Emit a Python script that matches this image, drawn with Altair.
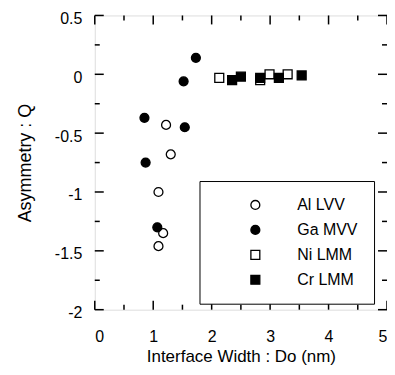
import altair as alt
import pandas as pd

series = ["Al LVV", "Ga MVV", "Ni LMM", "Cr LMM"]

al_x = [1.22, 1.30, 1.09, 1.17, 1.09]
al_y = [-0.43, -0.68, -1.00, -1.35, -1.46]

ga_x = [0.85, 1.52, 1.73, 1.54, 0.87, 1.07]
ga_y = [-0.37, -0.06, 0.14, -0.45, -0.75, -1.30]

ni_x = [2.13, 2.83, 2.99, 3.30]
ni_y = [-0.03, -0.05, 0.00, 0.00]

cr_x = [2.35, 2.50, 2.83, 3.15, 3.54]
cr_y = [-0.05, -0.02, -0.03, -0.03, -0.01]

x_major = [0, 1, 2, 3, 4, 5]
x_minor = [0.5, 1.5, 2.5, 3.5, 4.5]
y_major = [-2, -1.5, -1, -0.5, 0, 0.5]
y_minor = [-1.75, -1.25, -0.75, -0.25, 0.25]

rows = []
for name, xs_, ys_ in [("Al LVV", al_x, al_y), ("Ga MVV", ga_x, ga_y),
                       ("Ni LMM", ni_x, ni_y), ("Cr LMM", cr_x, cr_y)]:
    for a, b in zip(xs_, ys_):
        rows.append({"x": a, "y": b, "series": name})
df = pd.DataFrame(rows)

W, H = 293, 295
FONT = "Liberation Sans"

xs = alt.Scale(domain=[0, 5], nice=False, zero=False)
ys = alt.Scale(domain=[-2, 0.5], nice=False, zero=False)

x_axis = alt.Axis(
    values=x_major, title="Interface Width : Do (nm)", ticks=False, domain=False,
    grid=False, labelPadding=19, titlePadding=4, labelFontSize=16, titleFontSize=17,
    labelFont=FONT, titleFont=FONT, titleFontWeight="normal", labelColor="black",
    titleColor="black", labelExpr="toString(datum.value)")
y_axis = alt.Axis(
    values=y_major, title="Asymmetry : Q", ticks=False, domain=False, grid=False,
    labelPadding=13, titlePadding=20, labelFontSize=16, titleFontSize=18,
    labelFont=FONT, titleFont=FONT, titleFontWeight="normal", labelColor="black",
    titleColor="black", labelOffset=3, labelExpr="toString(datum.value)")

leg = dict(
    title=None, orient="none", legendX=105, legendY=166,
    strokeColor="black", padding=16,
    symbolOffset=32, labelOffset=34, rowPadding=9,
    labelFont=FONT, labelFontSize=16, labelColor="black",
    symbolStrokeColor="black", symbolStrokeWidth=1.3, symbolSize=80,
    fillColor="white",
)

points = alt.Chart(df).mark_point(
    filled=True, size=80, strokeWidth=1.3, opacity=1
).encode(
    x=alt.X("x:Q", scale=xs, axis=x_axis),
    y=alt.Y("y:Q", scale=ys, axis=y_axis),
    shape=alt.Shape("series:N", scale=alt.Scale(domain=series, range=["circle", "circle", "square", "square"]),
                    legend=alt.Legend(**leg)),
    fill=alt.Fill("series:N", scale=alt.Scale(domain=series, range=["white", "black", "white", "black"]),
                  legend=alt.Legend(**leg)),
    stroke=alt.Stroke("series:N", scale=alt.Scale(domain=series, range=["black", "black", "black", "black"]),
                      legend=alt.Legend(**leg)),
)

def tick_layer(vals, field, size, pos):
    d = pd.DataFrame({field: vals})
    m = alt.Chart(d).mark_tick(size=size, thickness=1.5, color="black", opacity=1)
    if field == "x":
        return m.encode(x=alt.X("x:Q", scale=xs, axis=x_axis), y=alt.value(pos))
    return m.encode(y=alt.Y("y:Q", scale=ys, axis=y_axis), x=alt.value(pos))

ticks = [
    tick_layer(x_major, "x", 9, H - 4.5), tick_layer(x_minor, "x", 5, H - 2.5),
    tick_layer(x_major, "x", 9, 4.5), tick_layer(x_minor, "x", 5, 2.5),
    tick_layer(y_major, "y", 9, 4.5), tick_layer(y_minor, "y", 5, 2.5),
    tick_layer(y_major, "y", 9, W - 4.5), tick_layer(y_minor, "y", 5, W - 2.5),
]

chart = alt.layer(points, *ticks).properties(
    width=W, height=H,
    padding={"left": 87, "top": 7, "right": 0, "bottom": 57},
    autosize=alt.AutoSizeParams(type="none"),
).configure_view(
    stroke="black", strokeWidth=1.5
).configure_legend(
    strokeWidth=1.5,
).configure(background="white")

chart.save("out.html", embed_options={"renderer": "svg", "actions": False})
